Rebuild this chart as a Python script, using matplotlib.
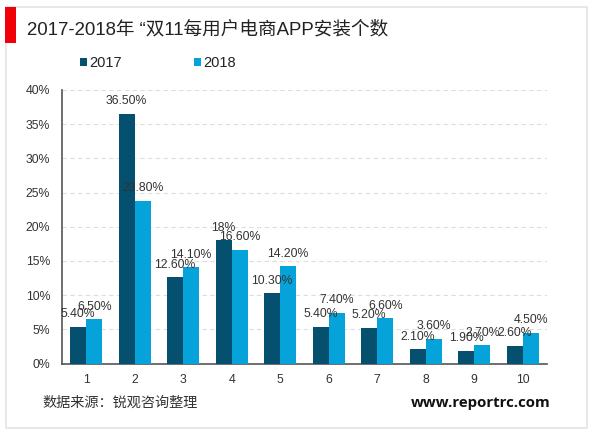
import matplotlib.pyplot as plt
import matplotlib.patches as patches
import numpy as np

plt.rcParams['font.family'] = ['Liberation Sans', 'Noto Sans CJK SC', 'DejaVu Sans']

categories = ['1', '2', '3', '4', '5', '6', '7', '8', '9', '10']
values_2017 = [5.4, 36.5, 12.6, 18, 10.3, 5.4, 5.2, 2.1, 1.9, 2.6]
values_2018 = [6.5, 23.8, 14.1, 16.6, 14.2, 7.4, 6.6, 3.6, 2.7, 4.5]
labels_2017 = ['5.40%', '36.50%', '12.60%', '18%', '10.30%', '5.40%', '5.20%', '2.10%', '1.90%', '2.60%']
labels_2018 = ['6.50%', '23.80%', '14.10%', '16.60%', '14.20%', '7.40%', '6.60%', '3.60%', '2.70%', '4.50%']
yticks = [0, 5, 10, 15, 20, 25, 30, 35, 40]

W, H = 600, 433
fig = plt.figure(figsize=(W / 100, H / 100), dpi=100, facecolor='white')

# outer frame and red marker, in pixel coordinates
bg = fig.add_axes([0, 0, 1, 1])
bg.set_xlim(0, W)
bg.set_ylim(H, 0)
bg.axis('off')
bg.add_patch(patches.Rectangle((5.5, 6.5), 581, 421, fill=False, ec='#e4e4e4', lw=1.2))
bg.add_patch(patches.Rectangle((5, 7), 11, 36, fc='#f00008', ec='none'))
bg.text(27, 30, '2017-2018年 “双11每用户电商APP安装个数', fontsize=13.4, color='#222222', va='center')
bg.text(42, 403, '数据来源：锐观咨询整理', fontsize=10.2, color='#333333', va='center')
bg.text(411, 403, 'www.reportrc.com', fontsize=10.8, fontweight='bold', family='Open Sans', color='#111111', va='center')

ax = fig.add_axes([62 / W, 1 - 363.5 / H, (547 - 62) / W, (363.5 - 90) / H])
x = np.arange(len(categories))
width = 0.33
c17, c18 = '#04506e', '#06a3da'
b1 = ax.bar(x - width / 2, values_2017, width, color=c17, label='2017', zorder=3)
b2 = ax.bar(x + width / 2, values_2018, width, color=c18, label='2018', zorder=3)

for rects, labs in [(b1, labels_2017), (b2, labels_2018)]:
    for r, lab in zip(rects, labs):
        ax.annotate(lab, (r.get_x() + r.get_width() / 2, r.get_height()), xytext=(0, 9),
                    textcoords='offset points', ha='center', va='center', fontsize=8.8,
                    color='#333333', zorder=4, annotation_clip=False)

ax.set_xlim(-0.5, 9.5)
ax.set_ylim(0, 40)
ax.set_xticks(x, categories)
ax.set_yticks(yticks, [str(t) + '%' for t in yticks])
ax.tick_params(axis='both', length=0, labelsize=8.8, labelcolor='#333333')
ax.tick_params(axis='x', pad=7.5)
ax.tick_params(axis='y', pad=8.5)
ax.grid(axis='y', color='#dedede', ls=(0, (4, 3)), lw=0.8, zorder=0)
ax.set_axisbelow(True)
for s in ['top', 'right']:
    ax.spines[s].set_visible(False)
for s in ['left', 'bottom']:
    ax.spines[s].set_color('#555555')
    ax.spines[s].set_linewidth(1.2)

fig.legend(handles=[b1, b2], loc='upper left', bbox_to_anchor=(67 / W, 1 - 43 / H), ncol=2,
           frameon=False, fontsize=10.5, handlelength=0.5, handleheight=0.5,
           handletextpad=0.15, columnspacing=4.9, labelcolor='#222222')

fig.savefig('out.png', dpi=100)
